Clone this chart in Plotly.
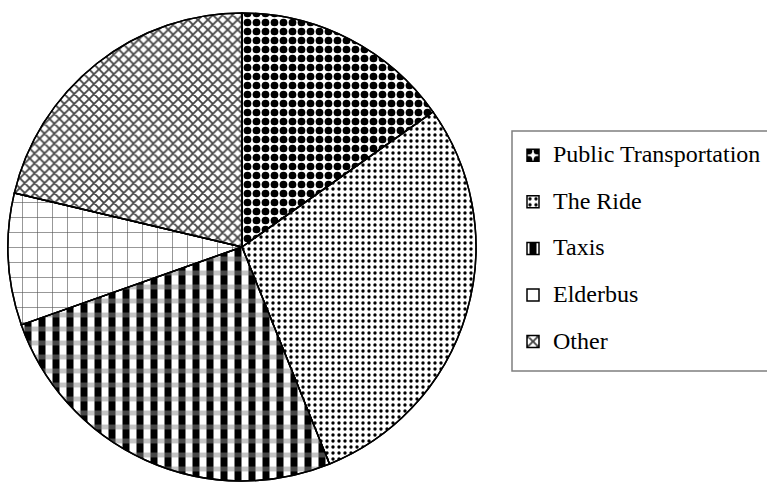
import plotly.graph_objects as go

# Share of trips by mode of transportation (percent)
categories = ["Public Transportation", "The Ride", "Taxis", "Elderbus", "Other"]
shares = [15.2, 28.7, 25.7, 9.1, 21.3]

# Fill pattern for each slice (base layer)
base_shapes = [".", ".", "|", "+", "x"]
base_fg = ["#000000", "#000000", "#ffffff", "#555555", "#444444"]
base_bg = ["#ffffff", "#ffffff", "#000000", "#ffffff", "#ffffff"]
base_size = [9, 6, 14, 15, 7]
base_solid = [0.58, 0.25, 0.5, 0.08, 0.45]

# Second layer: grey horizontal bands over the Taxis slice only
top_shapes = ["", "", "-", "", ""]

W, H = 767, 487
cx, cy, r = 242, 247, 234
dom_x = [(cx - r) / W, (cx + r) / W]
dom_y = [(H - cy - r) / H, (H - cy + r) / H]

SERIF = "Liberation Serif, Times New Roman, Times, serif"

legend_labels = [
    '<span style="font-size:24px;baseline-shift:6px">%s</span>' % c for c in categories
]

fig = go.Figure()
fig.add_trace(go.Pie(
    labels=legend_labels,
    values=shares,
    sort=False,
    direction="clockwise",
    rotation=0,
    textinfo="none",
    hovertext=categories,
    hoverinfo="text+percent",
    domain=dict(x=dom_x, y=dom_y),
    marker=dict(
        colors=base_bg,
        line=dict(color="#000000", width=1.5),
        pattern=dict(
            shape=base_shapes,
            fgcolor=base_fg,
            bgcolor=base_bg,
            size=base_size,
            solidity=base_solid,
            fillmode="replace",
        ),
    ),
))
fig.add_trace(go.Pie(
    labels=legend_labels,
    values=shares,
    sort=False,
    direction="clockwise",
    rotation=0,
    textinfo="none",
    hoverinfo="skip",
    showlegend=False,
    domain=dict(x=dom_x, y=dom_y),
    marker=dict(
        colors=["rgba(0,0,0,0)"] * len(categories),
        line=dict(color="#000000", width=1.5),
        pattern=dict(
            shape=top_shapes,
            fgcolor="#8c8c8c",
            bgcolor="rgba(0,0,0,0)",
            size=14,
            solidity=0.35,
            fillmode="overlay",
        ),
    ),
))

# Legend frame, drawn separately so the entries can sit freely inside it
fig.add_shape(
    type="rect", xref="paper", yref="paper",
    x0=512 / W, x1=780 / W, y0=(H - 371) / H, y1=(H - 131) / H,
    line=dict(color="#7f7f7f", width=1.5),
    fillcolor="rgba(0,0,0,0)",
    layer="below",
)

fig.update_layout(
    width=W,
    height=H,
    margin=dict(l=0, r=0, t=0, b=0),
    paper_bgcolor="#ffffff",
    plot_bgcolor="#ffffff",
    font=dict(family=SERIF, color="#000000"),
    legend=dict(
        x=513 / W,
        y=(H - 127) / H,
        xanchor="left",
        yanchor="top",
        bgcolor="rgba(0,0,0,0)",
        borderwidth=0,
        font=dict(family=SERIF, size=33.5, color="#000000"),
        traceorder="normal",
    ),
)

fig.write_html("out.html")
